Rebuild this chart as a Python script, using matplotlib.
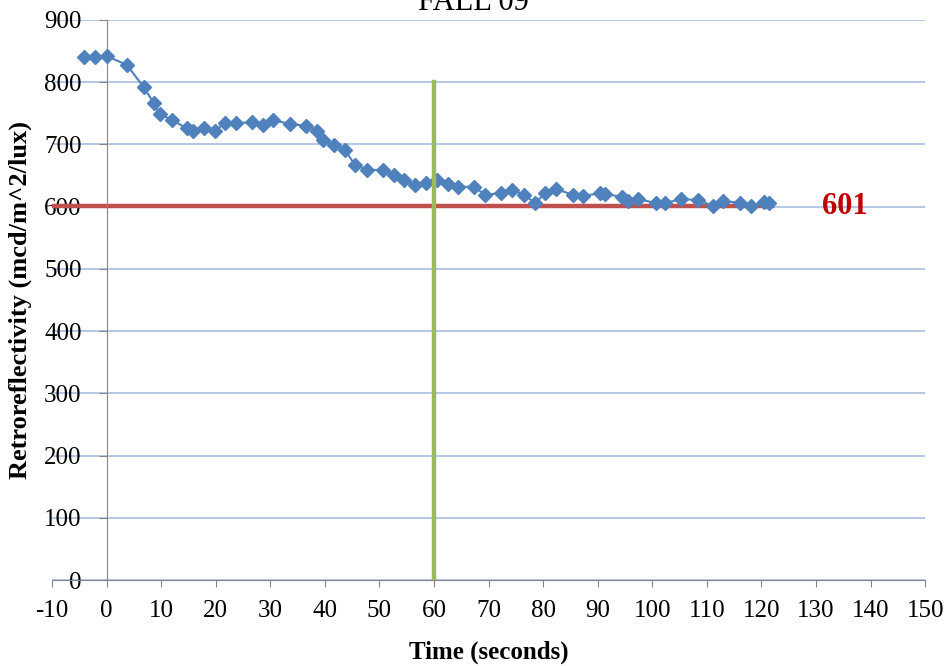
import numpy as np
import matplotlib.pyplot as plt

plt.rcParams['font.family'] = ['Liberation Serif', 'DejaVu Serif']
plt.rcParams['axes.unicode_minus'] = False

# readings taken off the chart
time_s = [-4.2, -2.2, 0, 3.7, 6.8, 8.6, 9.7, 12, 14.7, 15.8, 17.8, 19.8, 21.7,
          23.7, 26.6, 28.6, 30.5, 33.6, 36.5, 38.5, 39.6, 41.7, 43.7, 45.5,
          47.7, 50.6, 52.7, 54.5, 56.5, 58.5, 60.6, 62.6, 64.4, 67.3, 69.4,
          72.3, 74.3, 76.5, 78.5, 80.4, 82.4, 85.5, 87.3, 90.5, 91.4, 94.5,
          95.6, 97.4, 100.6, 102.4, 105.2, 108.3, 111.2, 113, 116.1, 118,
          120.4, 121.3]
retro = [840, 840, 842, 828, 792, 767, 749, 739, 726, 722, 726, 722, 734,
         734, 736, 731, 739, 733, 730, 722, 707, 699, 691, 667,
         659, 659, 651, 643, 635, 638, 643, 636, 632, 632, 619,
         622, 627, 619, 606, 622, 628, 619, 617, 622, 620, 616,
         609, 612, 606, 606, 612, 611, 601, 609, 606, 601,
         608, 606]

threshold = 601
threshold_x = [-10, 122]
mark_time = 60
mark_y = [0, 800]

fig = plt.figure(figsize=(9.46, 6.66), dpi=100)
ax = fig.add_axes([0.055, 0.129, 0.923, 0.841])

ax.plot(time_s, retro, color='#4F81BD', lw=1.5, marker='D', ms=7.5, zorder=3)
ax.plot(threshold_x, [threshold, threshold], color='#C0504D', lw=3.2, zorder=2)
ax.plot([mark_time, mark_time], mark_y, color='#9BBB59', lw=3.2, zorder=4)
ax.text(135.3, threshold, str(threshold), color='#C00000', fontsize=22,
        fontweight='bold', ha='center', va='center')

ax.set_xlim(-10, 150)
ax.set_ylim(0, 900)
ax.set_xticks(np.arange(-10, 151, 10))
ax.set_yticks(np.arange(0, 901, 100))
ax.yaxis.grid(True, color='#A7BFE3', lw=1.2)
ax.set_axisbelow(True)

for s in ['top', 'right']:
    ax.spines[s].set_visible(False)
ax.spines['left'].set_position(('data', 0))
ax.spines['left'].set_color('#868686')
ax.spines['bottom'].set_color('#868686')
ax.tick_params(axis='x', direction='out', length=5, color='#868686',
               labelsize=18, pad=9)
ax.tick_params(axis='y', direction='out', length=6, color='#868686',
               labelsize=18, pad=12)

ax.set_xlabel('Time (seconds)', fontsize=18, fontweight='bold', labelpad=14)
ax.set_ylabel('Retroreflectivity (mcd/m^2/lux)', fontsize=19, fontweight='bold')
ax.yaxis.set_label_coords(-0.023, 0.5)
fig.text(0.5, 0.975, 'FALL 09', fontsize=22, ha='center', va='bottom')

fig.savefig('out.png', dpi=100)
